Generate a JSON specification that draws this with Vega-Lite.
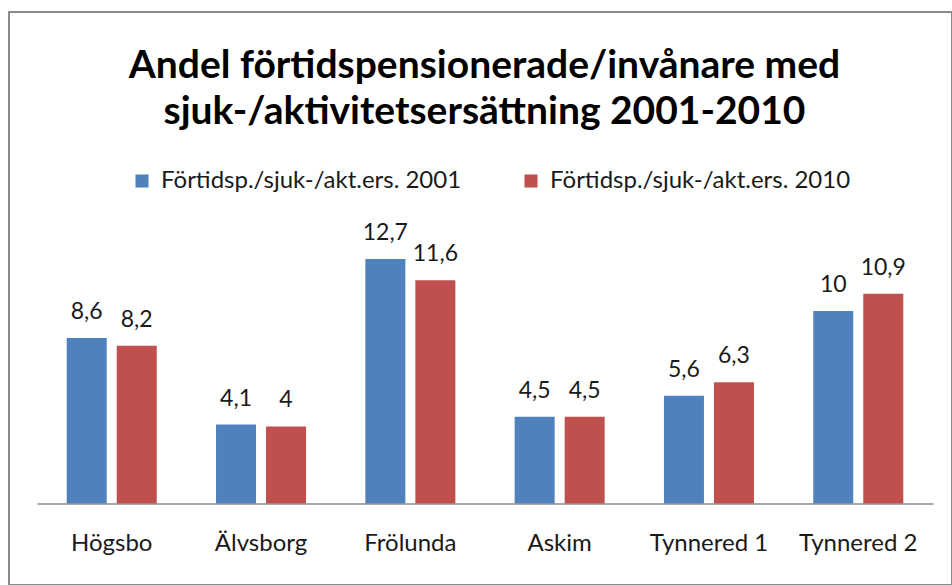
{
  "$schema": "https://vega.github.io/schema/vega-lite/v6.json",
  "width": 943,
  "height": 573,
  "autosize": {"type": "none"},
  "padding": {"left": 9, "top": 12, "right": 0, "bottom": 0},
  "background": "white",
  "config": {
    "locale": {"number": {"decimal": ",", "thousands": " ", "grouping": [3], "currency": ["", " kr"]}},
    "view": {"stroke": "#8a8a8a", "strokeWidth": 2},
    "font": "Lato"
  },
  "title": {
    "text": ["Andel förtidspensionerade/invånare med", "sjuk-/aktivitetsersättning 2001-2010"],
    "fontSize": 39,
    "fontWeight": "bold",
    "font": "Lato",
    "color": "#000000",
    "anchor": "middle",
    "offset": -120,
    "lineHeight": 46,
    "dx": 4
  },
  "data": {
    "values": [
      {"area": "Högsbo", "series": "Förtidsp./sjuk-/akt.ers. 2001", "value": 8.6},
      {"area": "Högsbo", "series": "Förtidsp./sjuk-/akt.ers. 2010", "value": 8.2},
      {"area": "Älvsborg", "series": "Förtidsp./sjuk-/akt.ers. 2001", "value": 4.1},
      {"area": "Älvsborg", "series": "Förtidsp./sjuk-/akt.ers. 2010", "value": 4},
      {"area": "Frölunda", "series": "Förtidsp./sjuk-/akt.ers. 2001", "value": 12.7},
      {"area": "Frölunda", "series": "Förtidsp./sjuk-/akt.ers. 2010", "value": 11.6},
      {"area": "Askim", "series": "Förtidsp./sjuk-/akt.ers. 2001", "value": 4.5},
      {"area": "Askim", "series": "Förtidsp./sjuk-/akt.ers. 2010", "value": 4.5},
      {"area": "Tynnered 1", "series": "Förtidsp./sjuk-/akt.ers. 2001", "value": 5.6},
      {"area": "Tynnered 1", "series": "Förtidsp./sjuk-/akt.ers. 2010", "value": 6.3},
      {"area": "Tynnered 2", "series": "Förtidsp./sjuk-/akt.ers. 2001", "value": 10},
      {"area": "Tynnered 2", "series": "Förtidsp./sjuk-/akt.ers. 2010", "value": 10.9}
    ]
  },
  "encoding": {
    "x": {
      "field": "area",
      "type": "nominal",
      "sort": null,
      "scale": {"range": [28, 924], "paddingInner": 0.397, "paddingOuter": 0.199},
      "axis": {
        "title": null,
        "ticks": false,
        "grid": false,
        "domainColor": "#8c8c8c",
        "domainWidth": 1.5,
        "labelFontSize": 24,
        "labelFont": "Lato",
        "labelColor": "#1a1a1a",
        "labelPadding": 28,
        "labelAngle": 0,
        "offset": -81.5
      }
    },
    "xOffset": {"field": "series", "type": "nominal", "scale": {"paddingInner": 0.2, "paddingOuter": 0}}
  },
  "layer": [
    {
      "mark": {"type": "bar"},
      "encoding": {
        "y": {"field": "value", "type": "quantitative", "scale": {"domain": [-4.234, 25.532], "nice": false, "zero": false}, "axis": null},
        "y2": {"datum": 0},
        "color": {
          "field": "series",
          "type": "nominal",
          "scale": {"domain": ["Förtidsp./sjuk-/akt.ers. 2001", "Förtidsp./sjuk-/akt.ers. 2010"], "range": ["#4F81BD", "#C0504D"]},
          "legend": {
            "title": null,
            "orient": "none",
            "legendX": 121,
            "legendY": 157,
            "direction": "horizontal",
            "symbolType": "square",
            "symbolSize": 170,
            "symbolStrokeWidth": 0,
            "labelFontSize": 24,
            "labelFont": "Lato",
            "labelColor": "#1a1a1a",
            "labelOffset": 7,
            "labelLimit": 500,
            "columnPadding": 57
          }
        }
      }
    },
    {
      "mark": {"type": "text", "baseline": "middle", "dy": -26, "fontSize": 23, "font": "Lato", "color": "#1a1a1a"},
      "encoding": {
        "y": {"field": "value", "type": "quantitative"},
        "text": {"field": "value", "type": "quantitative", "format": "~g"}
      }
    }
  ]
}
